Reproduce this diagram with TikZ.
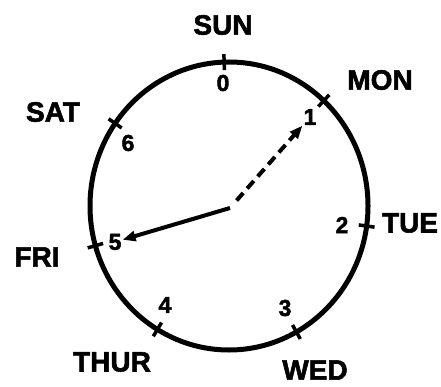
\documentclass[tikz,border=0pt]{standalone}
\usepackage{fontspec}
\setmainfont{Liberation Sans}[BoldFeatures={FakeBold=2}]
\usepackage{xcolor}
\definecolor{cInk}{HTML}{000000}
\usetikzlibrary{arrows.meta}
\tikzset{
  day-label/.style={font=\fontsize{28}{28}\selectfont\bfseries,text=cInk,inner sep=1pt},
  day-num/.style={font=\fontsize{23}{23}\selectfont\bfseries,text=cInk,inner sep=1pt},
  dial/.style={draw=cInk,line width=5pt},
  dial-tick/.style={draw=cInk,line width=3.5pt},
  hand/.style={-{Triangle[length=13pt,width=10pt]},draw=cInk,line width=4pt},
  hand-next/.style={hand,dash pattern=on 10pt off 6pt},
}

\begin{document}
\begin{tikzpicture}[x=1pt,y=1pt]
  \useasboundingbox (0,0) rectangle (441,386);
  \coordinate (ctr) at (229,180);
  \coordinate (hub) at (230,178);
  % dial and day ticks
  \draw[dial] (ctr) ellipse [x radius=139pt,y radius=144pt];
  \foreach \a in {92,47,-8,-61,-121,196,145}
    \draw[dial-tick,shift={(ctr)}] (\a:131pt and 136pt) -- (\a:147pt and 152pt);
  % day names
  \node[day-label] (sun)  at (223,361) {SUN};
  \node[day-label] (mon)  at (380,306) {MON};
  \node[day-label] (tue)  at (410,163) {TUE};
  \node[day-label] (wed)  at (315,16)  {WED};
  \node[day-label] (thur) at (112,24)  {THUR};
  \node[day-label] (fri)  at (37,129)  {FRI};
  \node[day-label] (sat)  at (53,274)  {SAT};
  % day numbers
  \node[day-num] (num0) at (223,303) {0};
  \node[day-num] (num1) at (310,269) {1};
  \node[day-num] (num2) at (342,161) {2};
  \node[day-num] (num3) at (285,78)  {3};
  \node[day-num] (num4) at (165,81)  {4};
  \node[day-num] (num5) at (115,144) {5};
  \node[day-num] (num6) at (128,243) {6};
  % hands
  \draw[hand] (hub) -- (num5);
  \draw[hand-next,shorten <=10pt] (hub) -- (num1);
\end{tikzpicture}
\end{document}
